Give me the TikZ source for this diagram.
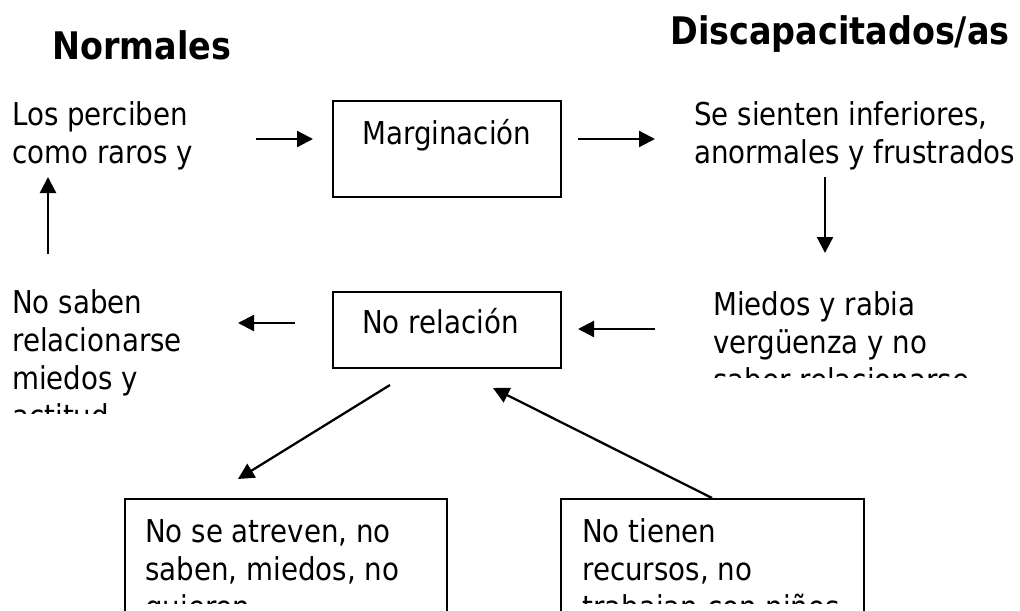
\documentclass[tikz,border=0pt]{standalone}
\usepackage{fontspec}
\setmainfont{DejaVu Sans}[FakeStretch=0.88]
\usetikzlibrary{arrows.meta, positioning}
\tikzstyle{box} = [draw,line width=1.4pt,anchor=north west,inner sep=0]
\tikzstyle{txt} = [inner sep=0,align=left,anchor=base west,font=\fontsize{23.6}{28.5}\selectfont]
\tikzstyle{head} = [inner sep=0,anchor=base west,font=\fontsize{28.5}{34}\selectfont\bfseries]
\tikzstyle{arr} = [line width=1.7pt,-{Triangle[length=12pt,width=12pt]}]

\begin{document}
\begin{tikzpicture}[x=0.75pt,y=-0.75pt]
	\useasboundingbox (0,0) rectangle (1020,610);
	\clip (0,0) rectangle (1020,610);
	% headings
	\node[head](normales) at (52,60){Normales};
	\node[head](discap) at (670,45){Discapacitados/as};
	% boxes
	\node[box,minimum width=171pt,minimum height=72pt](marg) at (332,100){};
	\node[box,minimum width=171pt,minimum height=57pt](norel) at (332,291){};
	\node[box,minimum width=241.5pt,minimum height=106.5pt](atrev) at (124,498){};
	\node[box,minimum width=227.25pt,minimum height=106.5pt](recur) at (560,498){};
	\node[txt](margtxt) at ([shift={(30,44)}]marg.north west){Marginación};
	\node[txt](noreltxt) at ([shift={(30,42)}]norel.north west){No relación};
	% free texts (base = last line)
	\node[txt](perc) at (12,163){Los perciben\\como raros y};
	\node[txt](sient) at (694,163){Se sienten inferiores,\\anormales y frustrados};
	\begin{scope}
		\clip (0,280) rectangle (330,413);
		\node[txt](nosaben) at (12,427){No saben\\relacionarse\\miedos y\\actitud};
	\end{scope}
	\begin{scope}
		\clip (690,280) rectangle (1020,377);
		\node[txt](miedos) at (713,391){Miedos y rabia\\vergüenza y no\\saber relacionarse};
	\end{scope}
	\begin{scope}
		\clip (0,498) rectangle (1020,603);
		\node[txt](atrevtxt) at ([shift={(21,120)}]atrev.north west){No se atreven, no\\saben, miedos, no\\quieren};
		\node[txt](recurtxt) at ([shift={(22,120)}]recur.north west){No tienen\\recursos, no\\trabajan con niños};
	\end{scope}
	% arrow ends
	\coordinate (p1) at (256,139); \coordinate (p2) at (313,139);
	\coordinate (p3) at (578,139); \coordinate (p4) at (655,139);
	\coordinate (p5) at (825,177); \coordinate (p6) at (825,253);
	\coordinate (p7) at (48,254);  \coordinate (p8) at (48,177);
	\coordinate (p9) at (295,323); \coordinate (p10) at (238,323);
	\coordinate (p11) at (655,329); \coordinate (p12) at (578,329);
	\coordinate (p13) at (390,385); \coordinate (p14) at (238,479);
	\coordinate (p15) at ([xshift=114pt]recur.north west); \coordinate (p16) at (493,388);

	\draw[arr](p1)--(p2);
	\draw[arr](p3)--(p4);
	\draw[arr](p5)--(p6);
	\draw[arr](p7)--(p8);
	\draw[arr](p9)--(p10);
	\draw[arr](p11)--(p12);
	\draw[arr](p13)--(p14);
	\draw[arr](p15)--(p16);
\end{tikzpicture}
\end{document}
